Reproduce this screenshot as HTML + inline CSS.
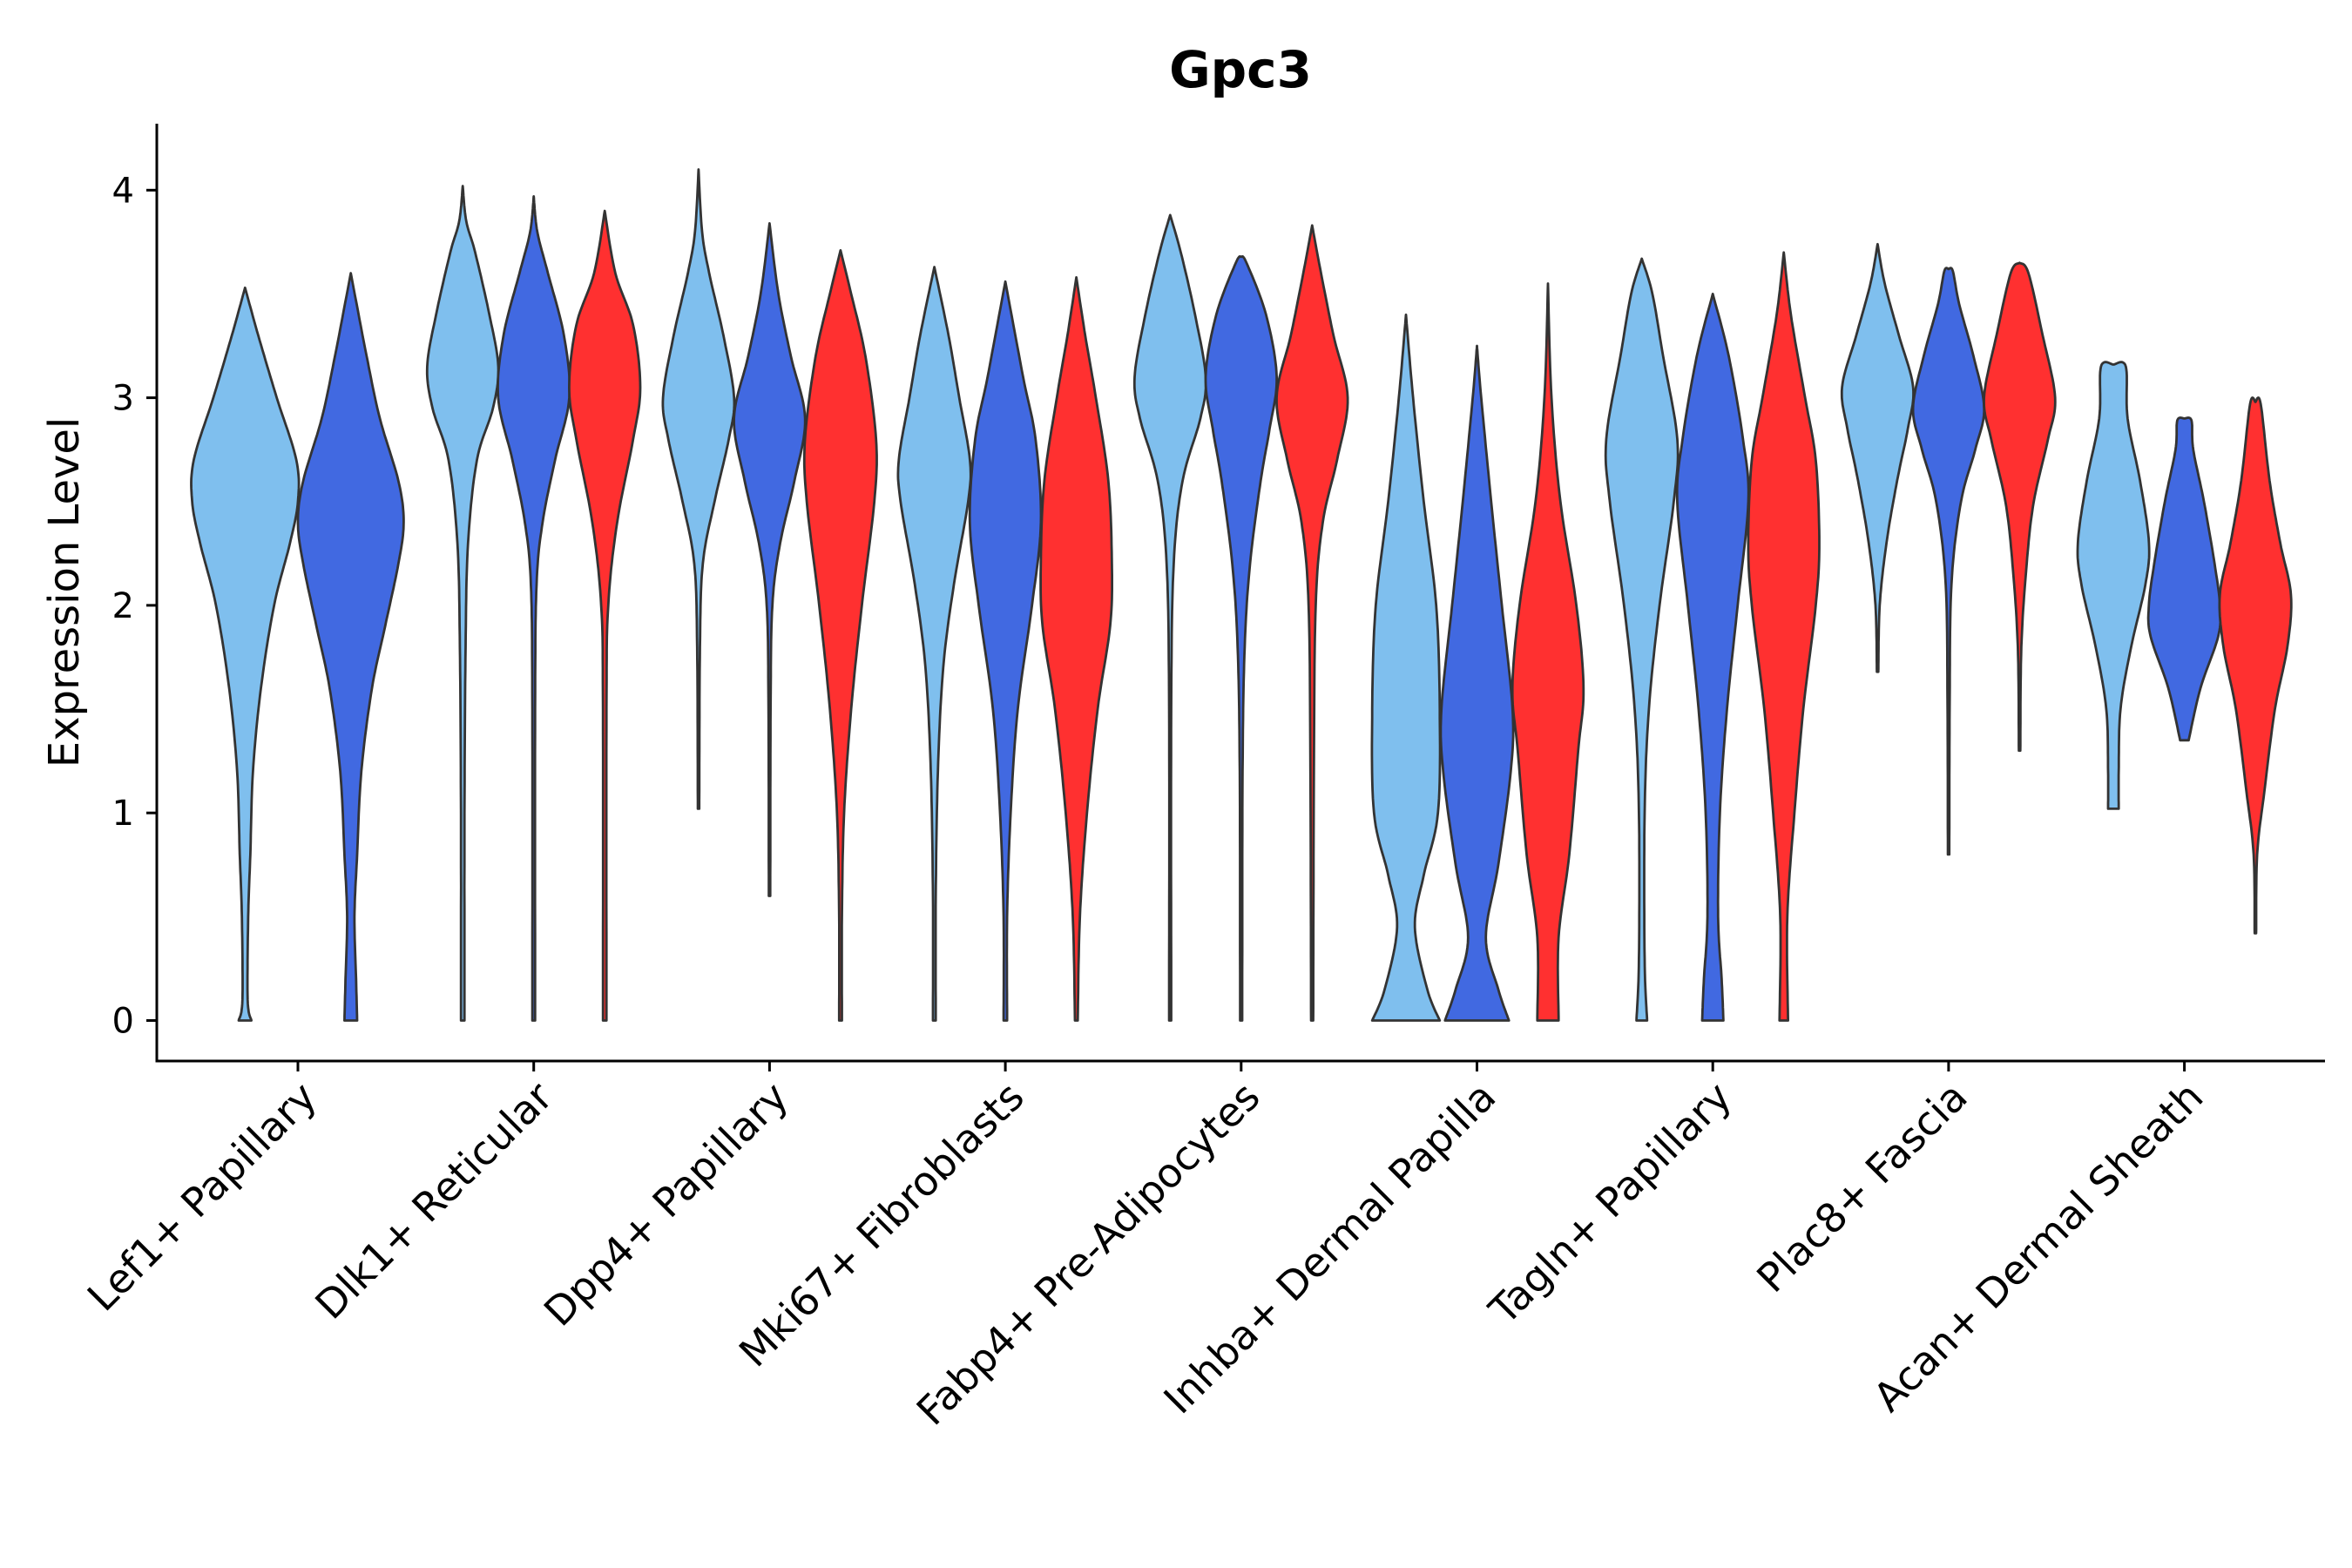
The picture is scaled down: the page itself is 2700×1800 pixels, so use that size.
<!DOCTYPE html>
<html><head><meta charset="utf-8"><style>
html,body{margin:0;padding:0;background:#fff;}
svg{display:block;font-family:"DejaVu Sans","Liberation Sans",sans-serif;}
</style></head><body>
<svg id="chart" width="2700" height="1800" viewBox="0 0 2700 1800" xmlns="http://www.w3.org/2000/svg">
<text x="1424" y="100" text-anchor="middle" font-size="58" font-weight="bold">Gpc3</text>
<text transform="translate(90,680) rotate(-90)" text-anchor="middle" font-size="48">Expression Level</text>
<g id="plot"></g>
</svg>
<script>
const categories = ["Lef1+ Papillary","Dlk1+ Reticular","Dpp4+ Papillary","Mki67+ Fibroblasts","Fabp4+ Pre-Adipocytes","Inhba+ Dermal Papilla","Tagln+ Papillary","Plac8+ Fascia","Acan+ Dermal Sheath"];
const seriesNames = ["light","blue","red"];
const seriesColors = ["#7FBFEE","#4169E1","#FF3030"];
const yTicks = [0,1,2,3,4];
const lightProfiles = [
 [[0,0.12],[0.1,0.05],[0.5,0.06],[0.8,0.1],[1.2,0.15],[1.6,0.3],[2.0,0.55],[2.3,0.85],[2.5,1],[2.7,0.97],[3.0,0.6],[3.3,0.25],[3.53,0]],
 [[0,0.05],[1,0.05],[1.8,0.08],[2.3,0.15],[2.7,0.4],[2.95,0.85],[3.15,1],[3.4,0.75],[3.7,0.35],[3.85,0.1],[4.02,0]],
 [[1.02,0.02],[1.8,0.04],[2.2,0.12],[2.5,0.45],[2.8,0.85],[3.0,1],[3.3,0.7],[3.6,0.3],[3.8,0.1],[4.1,0]],
 [[0,0.04],[0.6,0.04],[1.2,0.1],[1.7,0.25],[2.1,0.55],[2.5,0.95],[2.7,1],[3.0,0.7],[3.3,0.4],[3.63,0]],
 [[0,0.03],[1.5,0.03],[2.2,0.1],[2.6,0.35],[2.9,0.85],[3.1,1],[3.4,0.7],[3.7,0.3],[3.88,0]],
 [[0,0.95],[0.15,0.6],[0.45,0.25],[0.7,0.5],[1.0,0.9],[1.5,0.95],[2.0,0.85],[2.5,0.5],[3.0,0.2],[3.4,0]],
 [[0,0.15],[0.3,0.08],[1.0,0.08],[1.5,0.2],[2.0,0.5],[2.5,0.9],[2.8,1],[3.2,0.6],[3.5,0.3],[3.67,0]],
 [[1.68,0.02],[2.0,0.06],[2.3,0.25],[2.6,0.55],[2.85,0.85],[3.05,1],[3.3,0.6],[3.55,0.2],[3.74,0]],
 [[1.02,0.15],[1.2,0.15],[1.5,0.2],[1.8,0.5],[2.1,0.9],[2.3,1],[2.6,0.75],[2.9,0.4],[3.15,0.35],[3.16,0]]
];
const blueProfiles = [
 [[0,0.12],[0.2,0.1],[0.5,0.07],[0.8,0.12],[1.2,0.2],[1.6,0.4],[1.9,0.65],[2.2,0.9],[2.4,1],[2.6,0.9],[2.9,0.55],[3.2,0.3],[3.6,0]],
 [[0,0.04],[1.5,0.04],[2.1,0.08],[2.4,0.25],[2.7,0.6],[3.0,1],[3.3,0.85],[3.6,0.4],[3.8,0.1],[3.97,0]],
 [[0.6,0.02],[1.5,0.03],[2.0,0.08],[2.3,0.3],[2.6,0.7],[2.9,1],[3.2,0.6],[3.5,0.25],[3.84,0]],
 [[0,0.05],[0.5,0.05],[1.0,0.15],[1.5,0.35],[2.0,0.75],[2.4,1],[2.8,0.85],[3.1,0.5],[3.56,0]],
 [[0,0.03],[1.2,0.04],[1.8,0.1],[2.2,0.25],[2.6,0.55],[2.85,0.8],[3.1,1],[3.4,0.7],[3.65,0.15],[3.68,0]],
 [[0,0.9],[0.15,0.6],[0.4,0.25],[0.75,0.6],[1.2,0.95],[1.5,1],[2.0,0.7],[2.5,0.4],[3.0,0.12],[3.25,0]],
 [[0,0.3],[0.2,0.25],[0.5,0.15],[1.0,0.2],[1.5,0.4],[2.0,0.7],[2.5,1],[2.8,0.85],[3.2,0.45],[3.5,0]],
 [[0.8,0.02],[1.5,0.03],[2.1,0.08],[2.5,0.35],[2.75,0.75],[2.95,1],[3.2,0.7],[3.45,0.3],[3.61,0.12],[3.62,0]],
 [[1.35,0.12],[1.6,0.45],[1.85,0.95],[2.0,1],[2.2,0.85],[2.5,0.55],[2.75,0.25],[2.89,0.2],[2.9,0]]
];
const redProfiles = [
 null,
 [[0,0.05],[1.5,0.05],[2.0,0.1],[2.4,0.35],[2.8,0.8],[3.05,1],[3.35,0.8],[3.6,0.3],[3.9,0]],
 [[0,0.04],[0.5,0.04],[1.0,0.1],[1.5,0.3],[2.0,0.6],[2.5,0.95],[2.8,1],[3.2,0.7],[3.5,0.3],[3.71,0]],
 [[0,0.04],[0.5,0.1],[1.0,0.3],[1.5,0.6],[1.9,0.95],[2.2,1],[2.6,0.9],[3.0,0.55],[3.3,0.25],[3.58,0]],
 [[0,0.03],[1.2,0.05],[2.0,0.1],[2.4,0.3],[2.7,0.7],[3.0,1],[3.3,0.6],[3.6,0.25],[3.83,0]],
 [[0,0.3],[0.4,0.3],[0.8,0.6],[1.3,0.85],[1.6,1],[2.0,0.8],[2.5,0.35],[3.0,0.1],[3.55,0]],
 [[0,0.12],[0.5,0.1],[1.0,0.3],[1.5,0.55],[2.0,0.9],[2.3,1],[2.7,0.9],[3.0,0.6],[3.4,0.2],[3.7,0]],
 [[1.3,0.02],[1.8,0.05],[2.2,0.2],[2.5,0.4],[2.8,0.8],[3.0,1],[3.3,0.65],[3.6,0.25],[3.65,0]],
 [[0.42,0.02],[0.8,0.05],[1.1,0.25],[1.5,0.55],[1.8,0.9],[2.05,1],[2.3,0.7],[2.6,0.4],[2.97,0.15],[2.98,0]]
];

const NS="http://www.w3.org/2000/svg";
const g=document.getElementById('plot');
const L=180,R=2669,T=142,B=1218;
const y0=1171.5, yUnit=238.3;
function yScale(v){return y0-v*yUnit;}
function xCenter(i){return 342+i*270.7;}
function mk(tag,attrs){const e=document.createElementNS(NS,tag);for(const k in attrs)e.setAttribute(k,attrs[k]);return e;}

function smooth(p){
  const out=[];
  for(let i=0;i<p.length-1;i++){
    const a=p[Math.max(i-1,0)],b=p[i],c=p[i+1],d=p[Math.min(i+2,p.length-1)];
    for(let k=0;k<12;k++){
      const t=k/12,t2=t*t,t3=t2*t;
      const f=(q)=>0.5*((2*b[q])+(-a[q]+c[q])*t+(2*a[q]-5*b[q]+4*c[q]-d[q])*t2+(-a[q]+3*b[q]-3*c[q]+d[q])*t3);
      out.push([f(0),Math.max(0,f(1))]);
    }
  }
  out.push(p[p.length-1]);
  return out;
}

function drawViolin(ci,si,profile,nGroups){
  if(!profile)return;
  const half = nGroups===2 ? 60.7 : 40.8;
  const off = nGroups===2 ? (si===0?-60.7:60.7) : (si-1)*81.5;
  const cx=xCenter(ci)+off;
  const pts=smooth(profile);
  let d='';
  pts.forEach((q,i)=>{d+=(i?'L':'M')+(cx-q[1]*half).toFixed(1)+','+yScale(q[0]).toFixed(1);});
  for(let i=pts.length-1;i>=0;i--){const q=pts[i];d+='L'+(cx+q[1]*half).toFixed(1)+','+yScale(q[0]).toFixed(1);}
  d+='Z';
  const el=mk('path',{d:d,fill:seriesColors[si],stroke:'#333333','stroke-width':2.8,'stroke-linejoin':'round'});
  
  
  g.appendChild(el);
}
categories.forEach((c,i)=>{
  const n = redProfiles[i] ? 3 : 2;
  drawViolin(i,0,lightProfiles[i],n);
  drawViolin(i,1,blueProfiles[i],n);
  drawViolin(i,2,redProfiles[i],n);
});

const ax=mk('path',{d:`M${L},${T}L${L},${B}L${R},${B}`,fill:'none',stroke:'#000','stroke-width':3});


g.appendChild(ax);
yTicks.forEach(v=>{
  const y=yScale(v);
  const t=mk('line',{x1:L-12,x2:L,y1:y,y2:y,stroke:'#000','stroke-width':3});
  
  
  g.appendChild(t);
  const lb=mk('text',{x:L-26,y:y+14,'text-anchor':'end','font-size':40,fill:'#000'});
  lb.textContent=v;
  
  
  g.appendChild(lb);
});
categories.forEach((c,i)=>{
  const x=xCenter(i);
  const t=mk('line',{x1:x,x2:x,y1:B,y2:B+12,stroke:'#000','stroke-width':3});
  
  
  g.appendChild(t);
  const lb=mk('text',{transform:`translate(${x+24},${B+44}) rotate(-45)`,'text-anchor':'end','font-size':46,fill:'#000'});
  lb.textContent=c;
  
  
  g.appendChild(lb);
});
</script>
</body></html>
